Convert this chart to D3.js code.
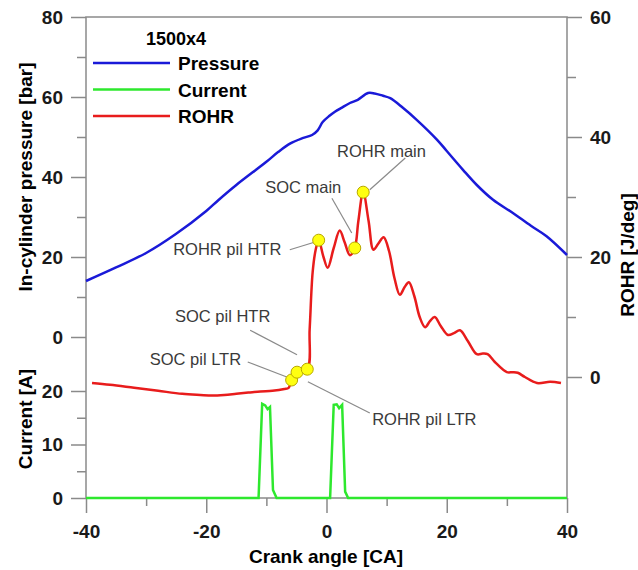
<!DOCTYPE html>
<html>
<head>
<meta charset="utf-8">
<script src="https://cdn.jsdelivr.net/npm/d3@7"></script>
<style>
  body { margin: 0; background: #fff; }
  svg { font-family: "Liberation Sans", Arial, sans-serif; }
  .tick text { font-size: 19px; font-weight: bold; fill: #1a1a1a; }
  .tick line { stroke: #8a8a8a; stroke-width: 1.5; }
</style>
</head>
<body>
<script>
// pressure trace (blue), crank angle [CA] vs bar
var pAngle = [-40, -35, -30, -25, -20, -18, -15, -10, -8, -6, -4, -2.4, -1.5, -0.6, 0.5, 1.4, 2.5, 3.9, 5.2, 6.9, 8, 9.4, 10.6, 12.7, 15, 18.4, 20, 22.7, 25, 27.7, 31, 34, 36.6, 40];
var pValue = [14, 17.4, 21, 25.8, 31.5, 34.2, 38, 43.8, 46.3, 48.4, 49.7, 50.5, 51.6, 53.8, 55.3, 56.3, 57.3, 58.5, 59.3, 61, 60.9, 60.3, 59.7, 57.3, 54.3, 49.3, 46.5, 41.8, 38, 34.3, 31, 27.8, 25.2, 20.5];

// injector current (green), A
var cAngle = [-40, -11.3, -10.7, -10.2, -9.8, -9.4, -8.9, -8.3, 0.6, 1.2, 1.7, 2.1, 2.6, 3.1, 3.6, 40];
var cValue = [0, 0, 17.6, 17.3, 16.6, 17.0, 1.5, 0, 0, 17.4, 17.5, 16.8, 17.4, 1.2, 0, 0];

// rate of heat release (red), J/deg
var rAngle = [-39, -36, -32, -28, -24, -21, -19, -17, -15, -13, -11, -9, -7, -6.3, -5.8, -4.9, -3.2, -2.8, -2.3, -1.8, -1.3, -0.5, 0.2, 1.2, 2.2, 3.0, 3.9, 4.7, 5.3, 6.1, 7.0, 7.8, 8.6, 9.5, 10.4, 11.3, 12.2, 13.0, 13.7, 14.6, 15.5, 16.4, 17.2, 18, 19, 20.2, 21.2, 22.2, 23.5, 25, 26, 26.8, 28, 30, 31, 31.8, 33, 35, 37.2, 39];
var rValue = [-1, -1.3, -1.8, -2.3, -2.8, -3, -3.1, -3, -2.8, -2.6, -2.4, -2.3, -2.0, -1.8, -0.5, 0.8, 1.3, 8, 17.5, 21.2, 22.8, 20, 18.2, 21.5, 24.4, 22.5, 20.3, 21.5, 26, 30.8, 26, 21.2, 22.2, 23.3, 21, 16.5, 13.7, 15, 15.8, 13.5, 10, 8.3, 9.3, 10, 8.5, 7, 7.3, 7.8, 6, 3.8, 3.9, 3.8, 2.5, 0.8, 0.8, 0.7, 0, -1, -0.8, -1];

// marked events on the ROHR trace
var markAngle = [-5.8, -4.9, -3.2, -1.3, 4.7, 6.1];
var markValue = [-0.5, 0.8, 1.3, 22.8, 21.5, 30.8];

// labels: text, text anchor point, leader start, leader end (CA, J/deg)
var labels = [
  {t: "ROHR main",    tx: 1.75,  ty: 36.7, x1: 13.1,  y1: 36.5, x2: 7.2,  y2: 31.2},
  {t: "SOC main",     tx: -10.2, ty: 30.7, x1: 0.9,   y1: 29.8, x2: 4.2,  y2: 24},
  {t: "ROHR pil HTR", tx: -25.5, ty: 20.3, x1: -6.1,  y1: 21.2, x2: -1.9, y2: 22.5},
  {t: "SOC pil HTR",  tx: -25.2, ty: 9.2,  x1: -12.7, y1: 7.8,  x2: -4.9, y2: 3.7},
  {t: "SOC pil LTR",  tx: -29.4, ty: 2,    x1: -13.1, y1: 2.5,  x2: -6.6, y2: 0},
  {t: "ROHR pil LTR", tx: 7.6,   ty: -8,   x1: 7.2,   y1: -6,   x2: -3.1, y2: -0.8}
];

var svg = d3.select("body").append("svg")
    .attr("width", 638)
    .attr("height", 570);

var x = d3.scaleLinear().domain([-40, 40]).range([86, 567]);
var yP = d3.scaleLinear().domain([0, 80]).range([337, 17]);
var yC = d3.scaleLinear().domain([0, 20]).range([498, 391]);
var yR = d3.scaleLinear().domain([0, 60]).range([377, 17]);

var axisCol = "#8a8a8a";
var fmt = function(d) { return String(d); };   // plain hyphen minus

// axes: major with labels, minor without
function addAxis(axis, tr) {
    var g = svg.append("g").attr("transform", tr).call(axis);
    g.select(".domain").remove();
    return g;
}

addAxis(d3.axisLeft(yP).tickValues([0, 20, 40, 60, 80]).tickSize(15).tickPadding(8).tickFormat(fmt), "translate(86,0)");
addAxis(d3.axisLeft(yP).tickValues([10, 30, 50, 70]).tickSize(9).tickFormat(""), "translate(86,0)");
addAxis(d3.axisLeft(yC).tickValues([0, 10, 20]).tickSize(15).tickPadding(8).tickFormat(fmt), "translate(86,0)");
addAxis(d3.axisLeft(yC).tickValues([5, 15]).tickSize(9).tickFormat(""), "translate(86,0)");
addAxis(d3.axisRight(yR).tickValues([0, 20, 40, 60]).tickSize(15).tickPadding(8).tickFormat(fmt), "translate(567,0)");
addAxis(d3.axisRight(yR).tickValues([10, 30, 50]).tickSize(9).tickFormat(""), "translate(567,0)");
addAxis(d3.axisBottom(x).tickValues([-40, -20, 0, 20, 40]).tickSize(15).tickPadding(12).tickFormat(fmt), "translate(0,498)");
addAxis(d3.axisBottom(x).tickValues([-30, -10, 10, 30]).tickSize(8).tickFormat(""), "translate(0,498)");

// frame
svg.append("rect")
    .attr("x", 86).attr("y", 17)
    .attr("width", 481).attr("height", 481)
    .attr("fill", "none")
    .attr("stroke", axisCol)
    .attr("stroke-width", 1.5);

// axis titles
svg.append("text")
    .attr("transform", "translate(32,177) rotate(-90)")
    .attr("text-anchor", "middle")
    .attr("font-size", "19px").attr("font-weight", "bold")
    .text("In-cylinder pressure [bar]");
svg.append("text")
    .attr("transform", "translate(32,419) rotate(-90)")
    .attr("text-anchor", "middle")
    .attr("font-size", "19px").attr("font-weight", "bold")
    .text("Current [A]");
svg.append("text")
    .attr("transform", "translate(634,255) rotate(-90)")
    .attr("text-anchor", "middle")
    .attr("font-size", "19px").attr("font-weight", "bold")
    .text("ROHR [J/deg]");
svg.append("text")
    .attr("x", 326).attr("y", 563)
    .attr("text-anchor", "middle")
    .attr("font-size", "19px").attr("font-weight", "bold")
    .text("Crank angle [CA]");

// traces
var pLine = d3.line().x(function(d, i) { return x(pAngle[i]); }).y(function(d) { return yP(d); }).curve(d3.curveCatmullRom);
var cLine = d3.line().x(function(d, i) { return x(cAngle[i]); }).y(function(d) { return yC(d); });
var rLine = d3.line().x(function(d, i) { return x(rAngle[i]); }).y(function(d) { return yR(d); }).curve(d3.curveCatmullRom);

svg.append("path").datum(cValue)
    .attr("d", cLine).attr("fill", "none")
    .attr("stroke", "#2ee82e").attr("stroke-width", 2.5);
svg.append("path").datum(pValue)
    .attr("d", pLine).attr("fill", "none")
    .attr("stroke", "#1a1ad8").attr("stroke-width", 2.5);
svg.append("path").datum(rValue)
    .attr("d", rLine).attr("fill", "none")
    .attr("stroke", "#e81c1c").attr("stroke-width", 2.5);

// annotation leaders and labels
labels.forEach(function(l) {
    svg.append("line")
        .attr("x1", x(l.x1)).attr("y1", yR(l.y1))
        .attr("x2", x(l.x2)).attr("y2", yR(l.y2))
        .attr("stroke", "#8a8a8a").attr("stroke-width", 1.2);
    svg.append("text")
        .attr("x", x(l.tx)).attr("y", yR(l.ty))
        .attr("font-size", "16.5px")
        .attr("fill", "#3a3a3a")
        .text(l.t);
});

// event markers
svg.selectAll("circle.mark").data(markValue).enter()
    .append("circle")
    .attr("class", "mark")
    .attr("cx", function(d, i) { return x(markAngle[i]); })
    .attr("cy", function(d) { return yR(d); })
    .attr("r", 6)
    .attr("fill", "#ffff10")
    .attr("stroke", "#b8a800")
    .attr("stroke-width", 1);

// legend
var leg = [["Pressure", "#1a1ad8"], ["Current", "#2ee82e"], ["ROHR", "#e81c1c"]];
svg.append("text")
    .attr("x", 146).attr("y", 45)
    .attr("font-size", "18px").attr("font-weight", "bold")
    .text("1500x4");
leg.forEach(function(d, i) {
    var yy = 63 + i * 26.5;
    svg.append("line")
        .attr("x1", 93).attr("x2", 170)
        .attr("y1", yy).attr("y2", yy)
        .attr("stroke", d[1]).attr("stroke-width", 2.5);
    svg.append("text")
        .attr("x", 178).attr("y", yy + 7)
        .attr("font-size", "19px").attr("font-weight", "bold")
        .text(d[0]);
});
</script>
</body>
</html>
